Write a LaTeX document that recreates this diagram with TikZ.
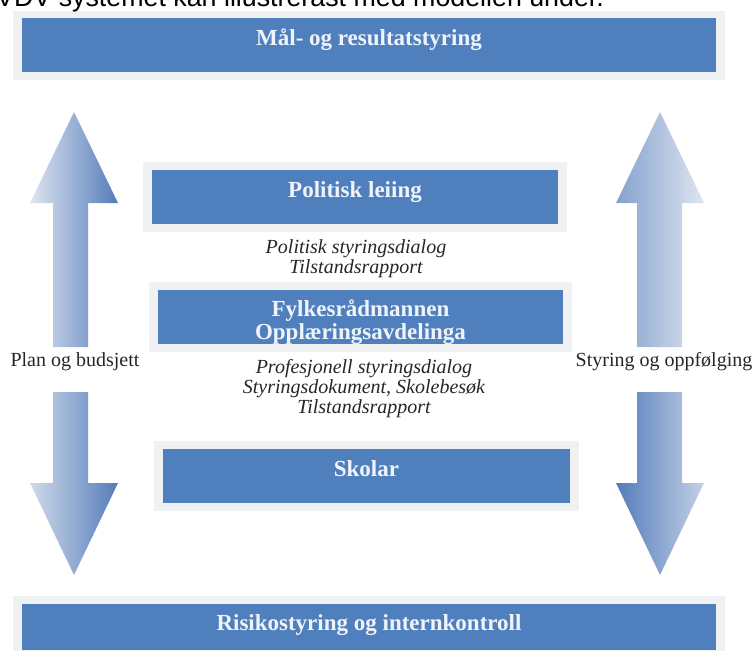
\documentclass[tikz,border=0pt]{standalone}
\usepackage{fontspec}
\setmainfont{Liberation Serif}
\newfontfamily\headfont{Liberation Sans}
\usetikzlibrary{fit,backgrounds}
\definecolor{boxblue}{RGB}{79,128,189}
\definecolor{glowgray}{RGB}{240,241,243}
\definecolor{boxtext}{RGB}{240,244,250}
\definecolor{arrowdark}{RGB}{84,124,186}
\definecolor{arrowmid}{RGB}{132,161,205}
\definecolor{arrowlight}{RGB}{222,229,240}
\tikzset{
  levelbox/.style  = {shape=rectangle, fill=boxblue, text=boxtext,
                      font=\bfseries\fontsize{23}{23}\selectfont, align=center,
                      inner sep=0pt, text height=27pt, text depth=27pt},
  widebox/.style   = {levelbox, minimum width=694pt},
  glow/.style      = {fill=glowgray, inner xsep=8.5pt, inner ysep=7.5pt},
  dialog/.style    = {font=\itshape\fontsize{20}{20}\selectfont, align=center,
                      text=black!85, inner sep=0pt},
  sidelabel/.style = {font=\fontsize{20}{24}\selectfont, text=black!85, inner sep=0pt}
}

\begin{document}
\begin{tikzpicture}[x=1pt, y=-1pt]
\useasboundingbox (0,0) rectangle (754,650);
\clip (0,0) rectangle (754,650);

% text above the model (cut by the page)
\node[font=\headfont\fontsize{26.8}{30}\selectfont, anchor=base west, inner sep=0pt]
  (intro) at (-4,7) {VDV-systemet kan illustrerast med modellen under.};

% levels (multi-line nodes sit on their last baseline)
\node[widebox] (maal) at (369,45.5) {Mål- og resultatstyring};
\node[levelbox, minimum width=406pt] (politisk) at (355,197) {Politisk leiing};
\node[levelbox, minimum width=405pt, anchor=base, text height=49.5pt, text depth=4.5pt]
  (fylke) at (360.5,339.5) {Fylkesrådmannen\\Opplæringsavdelinga};
\node[levelbox, minimum width=407pt] (skolar) at (366.5,476) {Skolar};
\node[widebox, anchor=base, text depth=19.5pt] (risiko) at (369,630.5)
  {Risikostyring og internkontroll};

\begin{scope}[on background layer]
  \foreach \b in {maal,politisk,fylke,skolar,risiko}
    \node[glow, fit=(\b)] (\b-glow) {};
\end{scope}

% dialogues between the levels
\node[dialog, anchor=base] (poldialog) at (356,273)
  {Politisk styringsdialog\\Tilstandsrapport};
\node[dialog, anchor=base] (profdialog) at (364,413)
  {Profesjonell styringsdialog\\Styringsdokument, Skolebesøk\\Tilstandsrapport};

% side arrows
\shade[left color=arrowlight, right color=arrowdark]
  (74,112) -- (118,203) -- (88,203) -- (88,347) -- (53,347) -- (53,203) -- (30,203) -- cycle;
\shade[left color=arrowlight!90!arrowdark, right color=arrowdark]
  (53,392) -- (88,392) -- (88,483) -- (118,483) -- (74,575) -- (30,483) -- (53,483) -- cycle;
\node[sidelabel] (plan) at (75,362) {Plan og budsjett};

\shade[left color=arrowmid, right color=arrowlight]
  (660,112) -- (704,203) -- (682,203) -- (682,347) -- (637,347) -- (637,203) -- (616,203) -- cycle;
\shade[left color=arrowdark, right color=arrowlight!70!arrowmid]
  (637,392) -- (682,392) -- (682,483) -- (704,483) -- (660,575) -- (616,483) -- (637,483) -- cycle;
\node[sidelabel] (styring) at (664,362) {Styring og oppfølging};
\end{tikzpicture}
\end{document}
